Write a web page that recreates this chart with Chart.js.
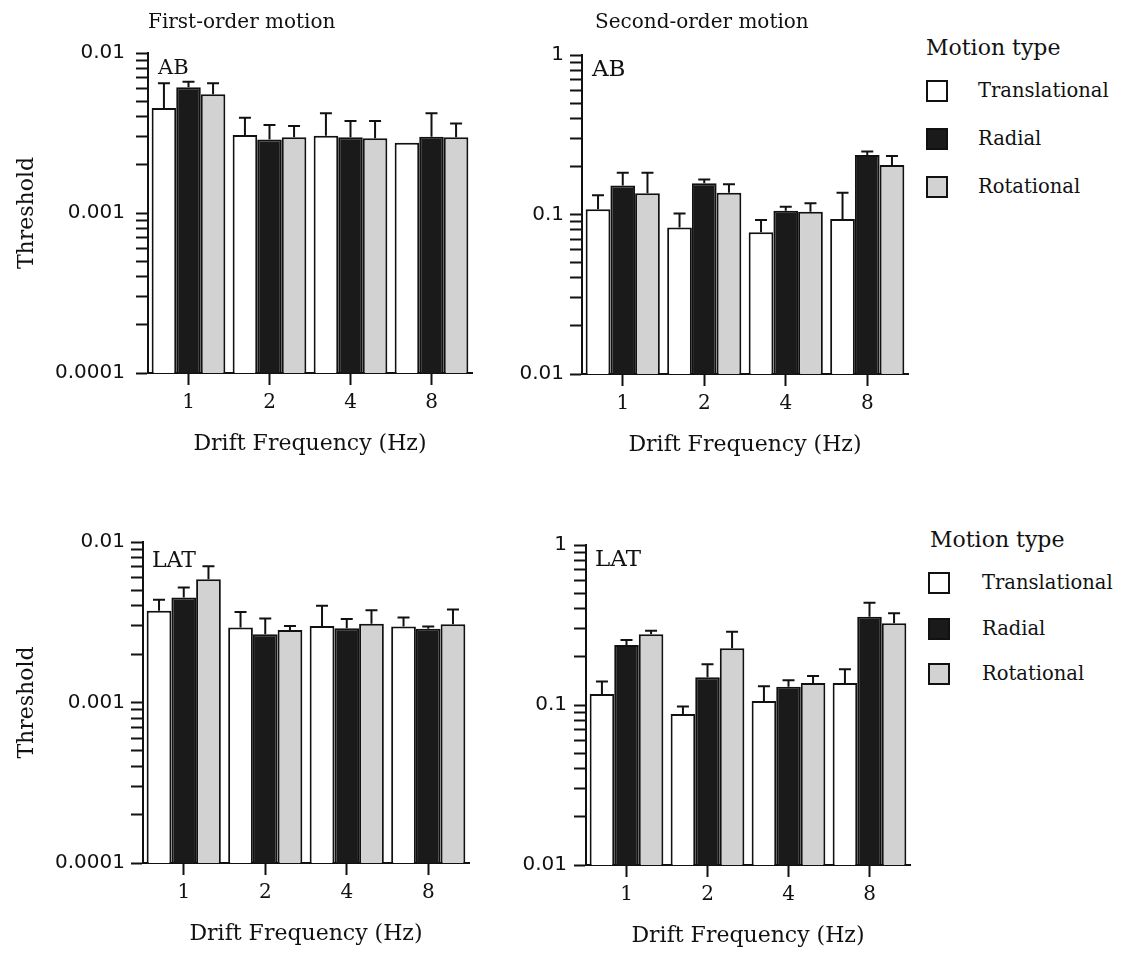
<!DOCTYPE html>
<html>
<head>
<meta charset="utf-8">
<script src="https://cdn.jsdelivr.net/npm/chart.js@4.4.1/dist/chart.umd.min.js"></script>
<style>
    html, body { margin: 0; padding: 0; background: #fff; }
    body { width: 1129px; height: 955px; position: relative; overflow: hidden; font-family: "DejaVu Serif", serif; color: #111; }
    canvas { position: absolute; }
    .txt { position: absolute; white-space: nowrap; line-height: 1; }
    .legend-box { position: absolute; width: 22px; height: 22px; border: 2px solid #111; box-sizing: border-box; }
</style>
</head>
<body>
<canvas id="fo-ab"></canvas>
<canvas id="so-ab"></canvas>
<canvas id="fo-lat"></canvas>
<canvas id="so-lat"></canvas>
<div id="labels"></div>
<script>
const freqLabels = ['1', '2', '4', '8'];
const motionTypes = ['Translational', 'Radial', 'Rotational'];
const firstOrderTicks = ['0.0001', '0.001', '0.01'];
const secondOrderTicks = ['0.01', '0.1', '1'];

// observer AB, first-order motion (bar height, top of error bar)
const abFirstTrans = [0.00453, 0.00307, 0.00304, 0.00275];
const abFirstTransErr = [0.00646, 0.00394, 0.0042, null];
const abFirstRadial = [0.0061, 0.00288, 0.00297, 0.0030];
const abFirstRadialErr = [0.00662, 0.00355, 0.00376, 0.0042];
const abFirstRot = [0.00552, 0.00297, 0.00293, 0.00297];
const abFirstRotErr = [0.00646, 0.0035, 0.00376, 0.00363];

// observer AB, second-order motion
const abSecondTrans = [0.108, 0.083, 0.0773, 0.0937];
const abSecondTransErr = [0.132, 0.1016, 0.0924, 0.137];
const abSecondRadial = [0.152, 0.157, 0.1056, 0.236];
const abSecondRadialErr = [0.183, 0.166, 0.112, 0.248];
const abSecondRot = [0.136, 0.137, 0.104, 0.204];
const abSecondRotErr = [0.183, 0.155, 0.1175, 0.233];

// observer LAT, first-order motion
const latFirstTrans = [0.00373, 0.00293, 0.0030, 0.00297];
const latFirstTransErr = [0.00436, 0.00366, 0.0040, 0.00339];
const latFirstRadial = [0.00451, 0.00266, 0.0029, 0.00288];
const latFirstRadialErr = [0.00521, 0.00334, 0.00331, 0.00297];
const latFirstRot = [0.00587, 0.00283, 0.0031, 0.00307];
const latFirstRotErr = [0.00705, 0.0030, 0.00376, 0.0038];

// observer LAT, second-order motion
const latSecondTrans = [0.117, 0.0879, 0.106, 0.137];
const latSecondTransErr = [0.14, 0.0977, 0.131, 0.167];
const latSecondRadial = [0.237, 0.149, 0.130, 0.356];
const latSecondRadialErr = [0.255, 0.180, 0.143, 0.436];
const latSecondRot = [0.277, 0.226, 0.137, 0.324];
const latSecondRotErr = [0.291, 0.287, 0.152, 0.374];

const barColors = ['#ffffff', '#1a1a1a', '#d2d2d2'];
const ink = '#111';

const panels = [
    {
        id: 'fo-ab', title: 'First-order motion', tag: 'AB', yTitle: 'Threshold',
        min: 0.0001, max: 0.01, tickLabels: firstOrderTicks, tickPad: 11,
        canvas: { x: 0, y: 0, w: 480, h: 470 }, area: { l: 148, r: 472, t: 53, b: 373 },
        values: [abFirstTrans, abFirstRadial, abFirstRot],
        errors: [abFirstTransErr, abFirstRadialErr, abFirstRotErr]
    },
    {
        id: 'so-ab', title: 'Second-order motion', tag: 'AB', yTitle: null,
        min: 0.01, max: 1, tickLabels: secondOrderTicks, tickPad: 6,
        canvas: { x: 490, y: 0, w: 425, h: 470 }, area: { l: 582, r: 908, t: 55, b: 374 },
        values: [abSecondTrans, abSecondRadial, abSecondRot],
        errors: [abSecondTransErr, abSecondRadialErr, abSecondRotErr]
    },
    {
        id: 'fo-lat', title: null, tag: 'LAT', yTitle: 'Threshold',
        min: 0.0001, max: 0.01, tickLabels: firstOrderTicks, tickPad: 6,
        canvas: { x: 0, y: 485, w: 480, h: 470 }, area: { l: 143, r: 469, t: 542, b: 863 },
        values: [latFirstTrans, latFirstRadial, latFirstRot],
        errors: [latFirstTransErr, latFirstRadialErr, latFirstRotErr]
    },
    {
        id: 'so-lat', title: null, tag: 'LAT', yTitle: null,
        min: 0.01, max: 1, tickLabels: secondOrderTicks, tickPad: 7,
        canvas: { x: 490, y: 485, w: 425, h: 470 }, area: { l: 586, r: 910, t: 545, b: 865 },
        values: [latSecondTrans, latSecondRadial, latSecondRot],
        errors: [latSecondTransErr, latSecondRadialErr, latSecondRotErr]
    }
];

// text placed over the charts: [text, left, top, size]
const overlayText = [
    ['First-order motion', 148, 11, 20],
    ['Second-order motion', 595, 11, 20],
    ['AB', 158, 57, 21],
    ['AB', 592, 57, 23],
    ['LAT', 152, 549, 22],
    ['LAT', 595, 547, 23]
];

const legends = [
    { x: 926, y: 37, boxX: 926, textX: 978, rows: [80, 128, 176] },
    { x: 930, y: 529, boxX: 928, textX: 982, rows: [572, 618, 663] }
];

const errorBarPlugin = {
    id: 'errorBars',
    afterDatasetsDraw(chart) {
        const ctx = chart.ctx;
        const yScale = chart.scales.y;
        ctx.save();
        ctx.strokeStyle = ink;
        ctx.lineWidth = 2;
        chart.data.datasets.forEach((ds, i) => {
            const meta = chart.getDatasetMeta(i);
            meta.data.forEach((bar, j) => {
                const top = ds.errTop[j];
                if (top == null) return;
                const yE = yScale.getPixelForValue(top);
                ctx.beginPath();
                ctx.moveTo(bar.x, bar.y);
                ctx.lineTo(bar.x, yE);
                ctx.moveTo(bar.x - 6, yE);
                ctx.lineTo(bar.x + 6, yE);
                ctx.stroke();
            });
        });
        ctx.restore();
    }
};

function buildPanel(p) {
    const canvas = document.getElementById(p.id);
    canvas.width = p.canvas.w;
    canvas.height = p.canvas.h;
    canvas.style.left = p.canvas.x + 'px';
    canvas.style.top = p.canvas.y + 'px';

    const xHeight = (p.canvas.y + p.canvas.h) - p.area.b;
    const yWidth = p.area.l - p.canvas.x;

    const datasets = motionTypes.map((name, i) => ({
        label: name,
        data: p.values[i],
        errTop: p.errors[i],
        backgroundColor: barColors[i],
        borderColor: ink,
        borderWidth: 2,
        barPercentage: 1,
        categoryPercentage: 0.91
    }));

    new Chart(canvas, {
        type: 'bar',
        data: { labels: freqLabels, datasets },
        options: {
            responsive: false,
            animation: false,
            layout: {
                padding: { top: p.area.t - p.canvas.y, right: (p.canvas.x + p.canvas.w) - p.area.r, left: 0, bottom: 0 }
            },
            plugins: { legend: { display: false }, tooltip: { enabled: false } },
            scales: {
                x: {
                    offset: true,
                    grid: { drawOnChartArea: false, drawTicks: true, tickLength: 12, tickWidth: 2, tickColor: ink, offset: false },
                    border: { display: true, color: ink, width: 2 },
                    ticks: { color: ink, font: { family: 'DejaVu Serif', size: 20 }, padding: 6 },
                    title: {
                        display: true, text: 'Drift Frequency (Hz)', color: ink,
                        font: { family: 'DejaVu Serif', size: 22 },
                        padding: { top: 0, bottom: xHeight - 71 - 13 }
                    },
                    afterFit: s => { s.height = xHeight; }
                },
                y: {
                    type: 'logarithmic',
                    min: p.min,
                    max: p.max,
                    grid: { drawOnChartArea: false, drawTicks: true, tickLength: 12, tickWidth: 2, tickColor: ink },
                    border: { display: true, color: ink, width: 2 },
                    ticks: {
                        autoSkip: false,
                        color: ink,
                        padding: p.tickPad,
                        font: { family: 'DejaVu Sans', size: 20 },
                        callback: function (value) {
                            const k = Math.log10(value / p.min);
                            if (Math.abs(k - Math.round(k)) < 1e-6) return p.tickLabels[Math.round(k)];
                            return '';
                        }
                    },
                    afterBuildTicks: function (scale) {
                        const ticks = [];
                        for (let d = p.min; d < p.max * 0.999; d *= 10) {
                            for (let m = 1; m < 10; m++) ticks.push({ value: m * d });
                        }
                        ticks.push({ value: p.max });
                        scale.ticks = ticks;
                    },
                    title: {
                        display: !!p.yTitle, text: p.yTitle || '', color: ink,
                        font: { family: 'DejaVu Serif', size: 22 },
                        padding: { top: 14, bottom: 0 }
                    },
                    afterFit: s => { s.width = yWidth; }
                }
            }
        },
        plugins: [errorBarPlugin]
    });
}

function addText(text, left, top, size) {
    const el = document.createElement('div');
    el.className = 'txt';
    el.textContent = text;
    el.style.left = left + 'px';
    el.style.top = top + 'px';
    el.style.fontSize = size + 'px';
    document.getElementById('labels').appendChild(el);
}

function buildLegend(lg) {
    addText('Motion type', lg.x, lg.y, 22);
    motionTypes.forEach((name, i) => {
        const box = document.createElement('div');
        box.className = 'legend-box';
        box.style.left = lg.boxX + 'px';
        box.style.top = lg.rows[i] + 'px';
        box.style.background = barColors[i];
        document.getElementById('labels').appendChild(box);
        addText(name, lg.textX, lg.rows[i] + 1, 19.5);
    });
}

panels.forEach(p => buildPanel(p));
overlayText.forEach(t => addText(t[0], t[1], t[2], t[3]));
legends.forEach(lg => buildLegend(lg));
</script>
</body>
</html>
